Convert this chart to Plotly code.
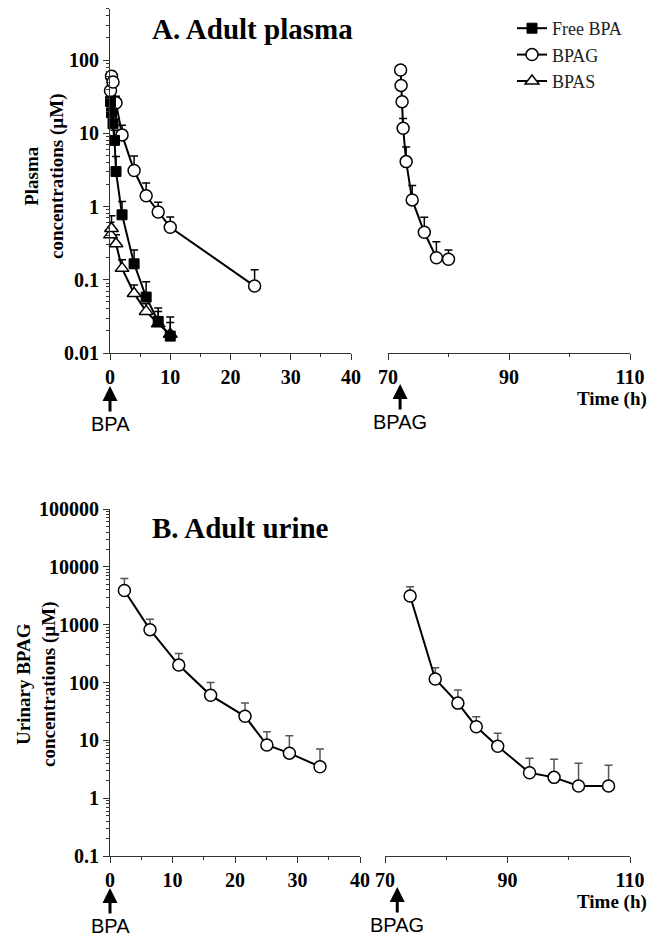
import plotly.graph_objects as go
import math

# ---------------- data ----------------
plasma_bpa_t = [0.083, 0.25, 0.5, 0.75, 1, 2, 4, 6, 8, 10]
plasma_bpa = [27, 19, 13.5, 8, 3, 0.77, 0.165, 0.058, 0.027, 0.017]
plasma_bpa_err = [5, 4, 4, 3, 1.8, 0.4, 0.09, 0.036, 0.014, 0.014]

plasma_bpag_t = [0.083, 0.25, 0.5, 1, 2, 4, 6, 8, 10, 24]
plasma_bpag = [38, 60, 50, 26, 9.5, 3.1, 1.4, 0.84, 0.52, 0.082]
plasma_bpag_err = [8, 10, 12, 6, 3.4, 1.8, 0.7, 0.3, 0.2, 0.055]

plasma_bpas_t = [0.083, 0.25, 1, 2, 4, 6, 8, 10]
plasma_bpas = [0.41, 0.5, 0.31, 0.143, 0.065, 0.037, 0.025, 0.018]
plasma_bpas_err = [0.2, 0.25, 0.1, 0.045, 0.02, 0.01, 0.012, 0.008]

plasma_bpag2_t = [72.083, 72.167, 72.33, 72.5, 73, 74, 76, 78, 80]
plasma_bpag2 = [73, 45, 27, 11.7, 4.1, 1.23, 0.445, 0.2, 0.19]
plasma_bpag2_err = [0, 0, 0, 4.2, 2.4, 0.7, 0.27, 0.13, 0.065]

urine_t1 = [2.3, 6.4, 11, 16.1, 21.6, 25.1, 28.7, 33.6]
urine1 = [3900, 820, 200, 60, 26, 8.3, 6, 3.5]
urine1_err = [2400, 420, 118, 40, 18, 5.8, 6, 3.6]

urine_t2 = [74.1, 78.2, 81.9, 84.9, 88.4, 93.6, 97.6, 101.6, 106.5]
urine2 = [3130, 115, 44, 17.2, 7.9, 2.75, 2.29, 1.62, 1.62]
urine2_err = [1400, 65, 30, 8.5, 5.3, 2.15, 2.4, 2.4, 2.1]

plasma_ticks = [0.01, 0.1, 1, 10, 100]
plasma_ticktext = ["0.01", "0.1", "1", "10", "100"]
urine_ticks = [0.1, 1, 10, 100, 1000, 10000, 100000]
urine_ticktext = ["0.1", "1", "10", "100", "1000", "10000", "100000"]
left_xticks = [0, 10, 20, 30, 40]
left_xminor = [5, 15, 25, 35]
right_xticks = [70, 90, 110]
right_xminor = [80, 100]

# ---------------- styling ----------------
SERIF = "Liberation Serif"
SANS = "Liberation Sans"
AX = "#333333"
W, H = 651, 940


def minor_log(lo_exp, hi_exp, top=None):
    vals = []
    for e in range(lo_exp, hi_exp + 1):
        for m in range(2, 10):
            v = m * 10 ** e
            if top is None or v <= top:
                vals.append(v)
    return vals


def err(arr, color="black"):
    return dict(type="data", array=arr, arrayminus=[0] * len(arr), symmetric=False,
                color=color, thickness=1.5, width=4, visible=True)


open_circle = dict(symbol="circle", size=12, color="white", line=dict(color="black", width=1.5))
fill_square = dict(symbol="square", size=10, color="black", line=dict(color="black", width=1))
open_tri = dict(symbol="triangle-up", size=12, color="white", line=dict(color="black", width=1.5))
line = dict(color="black", width=2)

fig = go.Figure()

fig.add_trace(go.Scatter(x=plasma_bpag_t, y=plasma_bpag, mode="lines+markers", name="BPAG",
                         marker=open_circle, line=line, error_y=err(plasma_bpag_err),
                         xaxis="x", yaxis="y", cliponaxis=False, legendrank=2))
fig.add_trace(go.Scatter(x=plasma_bpas_t, y=plasma_bpas, mode="lines+markers", name="BPAS",
                         marker=open_tri, line=line, error_y=err(plasma_bpas_err),
                         xaxis="x", yaxis="y", cliponaxis=False, legendrank=3))
fig.add_trace(go.Scatter(x=plasma_bpa_t, y=plasma_bpa, mode="lines+markers", name="Free BPA",
                         marker=fill_square, line=line, error_y=err(plasma_bpa_err),
                         xaxis="x", yaxis="y", cliponaxis=False, legendrank=1))
fig.add_trace(go.Scatter(x=plasma_bpag2_t, y=plasma_bpag2, mode="lines+markers", showlegend=False,
                         marker=open_circle, line=line, error_y=err(plasma_bpag2_err),
                         xaxis="x2", yaxis="y2", cliponaxis=False))
fig.add_trace(go.Scatter(x=urine_t1, y=urine1, mode="lines+markers", showlegend=False,
                         marker=open_circle, line=line, error_y=err(urine1_err, "#555555"),
                         xaxis="x3", yaxis="y3", cliponaxis=False))
fig.add_trace(go.Scatter(x=urine_t2, y=urine2, mode="lines+markers", showlegend=False,
                         marker=open_circle, line=line, error_y=err(urine2_err, "#555555"),
                         xaxis="x4", yaxis="y4", cliponaxis=False))


def px_x(p):
    return p / W


def px_y(p):
    return 1 - p / H


tickfont = dict(family=SERIF, size=20, color="black", weight="bold")

common_x = dict(showline=True, linecolor=AX, linewidth=1.2, ticks="outside", ticklen=6,
                tickwidth=1.2, tickcolor=AX, showgrid=False, zeroline=False, tickfont=tickfont,
                tickmode="array", automargin=False)
common_y = dict(type="log", showline=True, linecolor=AX, linewidth=1.2, ticks="outside",
                ticklen=6, tickwidth=1.2, tickcolor=AX, showgrid=False, zeroline=False,
                tickfont=tickfont, tickmode="array", automargin=False)

top_dom = [px_y(353), px_y(8.8)]
bot_dom = [px_y(856), px_y(509)]
top_range = [-2, math.log10(500)]
bot_range = [-1, 5]

fig.update_layout(
    template="none",
    width=W, height=H, autosize=False,
    margin=dict(l=0, r=0, t=0, b=0, pad=0),
    paper_bgcolor="white", plot_bgcolor="white",
    showlegend=True,
    legend=dict(x=px_x(512), y=px_y(10), xanchor="left", yanchor="top",
                bgcolor="rgba(0,0,0,0)", font=dict(family=SERIF, size=18, color="#222"),
                itemwidth=30, tracegroupgap=0),
    xaxis=dict(domain=[px_x(110), px_x(351)], range=[0, 40], anchor="y",
               tickvals=left_xticks, ticktext=[str(v) for v in left_xticks],
               minor=dict(tickmode="array", tickvals=left_xminor, ticks="outside", ticklen=3,
                          tickcolor=AX, tickwidth=1.2), **common_x),
    xaxis2=dict(domain=[px_x(388), px_x(630)], range=[70, 110], anchor="y2",
                tickvals=right_xticks, ticktext=[str(v) for v in right_xticks],
                minor=dict(tickmode="array", tickvals=right_xminor, ticks="outside", ticklen=3,
                           tickcolor=AX, tickwidth=1.2), **common_x),
    xaxis3=dict(domain=[px_x(110), px_x(360)], range=[0, 40], anchor="y3",
                tickvals=left_xticks, ticktext=[str(v) for v in left_xticks],
                minor=dict(tickmode="array", tickvals=left_xminor, ticks="outside", ticklen=3,
                           tickcolor=AX, tickwidth=1.2), **common_x),
    xaxis4=dict(domain=[px_x(385), px_x(630)], range=[70, 110], anchor="y4",
                tickvals=right_xticks, ticktext=[str(v) for v in right_xticks],
                minor=dict(tickmode="array", tickvals=right_xminor, ticks="outside", ticklen=3,
                           tickcolor=AX, tickwidth=1.2), **common_x),
    yaxis=dict(domain=top_dom, range=top_range, anchor="x",
               tickvals=plasma_ticks, ticktext=plasma_ticktext,
               minor=dict(tickmode="array", tickvals=minor_log(-2, 2, 500), ticks="outside",
                          ticklen=3, tickcolor=AX, tickwidth=1), **common_y),
    yaxis2=dict(domain=top_dom, range=top_range, anchor="x2", type="log", visible=False),
    yaxis3=dict(domain=bot_dom, range=bot_range, anchor="x3",
                tickvals=urine_ticks, ticktext=urine_ticktext,
                minor=dict(tickmode="array", tickvals=minor_log(-1, 4), ticks="outside",
                           ticklen=3, tickcolor=AX, tickwidth=1), **common_y),
    yaxis4=dict(domain=bot_dom, range=bot_range, anchor="x4", type="log", visible=False),
)

title_font = dict(family=SERIF, size=29, color="black")
lab_font = dict(family=SERIF, size=19, color="black")
arrow_font = dict(family=SANS, size=20, color="black")

annotations = [
    dict(text="<b>A. Adult plasma</b>", x=px_x(150), y=px_y(29), xref="paper", yref="paper",
         xanchor="left", yanchor="middle", showarrow=False, font=title_font),
    dict(text="<b>B. Adult urine</b>", x=px_x(150), y=px_y(528), xref="paper", yref="paper",
         xanchor="left", yanchor="middle", showarrow=False, font=title_font),
    dict(text="<b>Plasma<br>concentrations (µM)</b>", x=px_x(44), y=px_y(176), xref="paper",
         yref="paper", xanchor="center", yanchor="middle", textangle=-90, showarrow=False,
         font=lab_font),
    dict(text="<b>Urinary BPAG<br>concentrations (µM)</b>", x=px_x(36), y=px_y(684),
         xref="paper", yref="paper", xanchor="center", yanchor="middle", textangle=-90,
         showarrow=False, font=lab_font),
    dict(text="<b>Time (h)</b>", x=px_x(649), y=px_y(399), xref="paper", yref="paper",
         xanchor="right", yanchor="middle", showarrow=False, font=lab_font),
    dict(text="<b>Time (h)</b>", x=px_x(649), y=px_y(902), xref="paper", yref="paper",
         xanchor="right", yanchor="middle", showarrow=False, font=lab_font),
]

dose_marks = [("x", 0, "BPA", 386), ("x2", 72, "BPAG", 384),
              ("x3", 0, "BPA", 888), ("x4", 72, "BPAG", 887)]
for xr, xv, txt, tip in dose_marks:
    annotations.append(dict(text=txt, x=xv, xref=xr, y=px_y(tip), yref="paper",
                            showarrow=True, arrowhead=2, arrowsize=1, arrowwidth=3,
                            arrowcolor="black", ax=0, ay=38, standoff=0, font=arrow_font))

fig.update_layout(annotations=annotations)

fig.write_html("out.html", config={"displayModeBar": False},
               post_script="document.body.style.margin='0';document.body.style.overflow='hidden';")
